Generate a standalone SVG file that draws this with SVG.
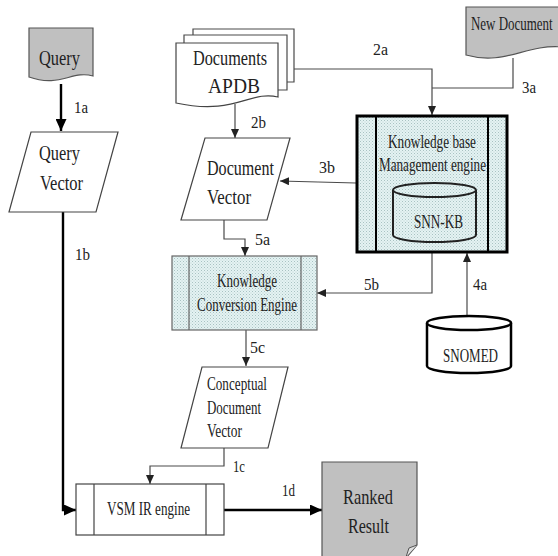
<svg xmlns="http://www.w3.org/2000/svg" width="558" height="556" viewBox="0 0 558 556" font-family="'Liberation Serif', 'Times New Roman', serif">
<defs>
<pattern id="dots" width="3" height="3" patternUnits="userSpaceOnUse">
<rect width="3" height="3" fill="#e4f3f3"/>
<rect x="0" y="0" width="1" height="1" fill="#a9c2c2"/>
<rect x="1.5" y="1.5" width="1" height="1" fill="#bcd0d0"/>
</pattern>
<marker id="ah" markerWidth="9" markerHeight="8" refX="9" refY="4" orient="auto" markerUnits="userSpaceOnUse">
<path d="M0,0 L9,4 L0,8 Z" fill="#222"/>
</marker>
<marker id="ahb" markerWidth="12" markerHeight="11" refX="12" refY="5.5" orient="auto" markerUnits="userSpaceOnUse">
<path d="M0,0 L12,5.5 L0,11 Z" fill="#000"/>
</marker>
</defs>
<style>
text{font-family:'Liberation Serif','Times New Roman',serif;fill:#222;}
.big{font-size:21px;}
.mid{font-size:18px;}
.lbl{font-size:17px;}
.thin{fill:none;stroke:#4a4a4a;stroke-width:1.2;}
.thick{fill:none;stroke:#000;stroke-width:2.4;}
.shape{fill:#fff;stroke:#444;stroke-width:1.2;}
.gray{fill:#c0c0c0;stroke:#555;stroke-width:1.2;}
.pat{fill:url(#dots);stroke:#666;stroke-width:1.2;}
</style>
<rect width="558" height="556" fill="#fff"/>

<g id="connectors">
<path class="thick" d="M61,84 V131" marker-end="url(#ahb)"/>
<path class="thick" d="M63,212 V510 H76" marker-end="url(#ahb)"/>
<path class="thin" d="M224,448 V466 H150 V484" marker-end="url(#ah)"/>
<path class="thick" d="M224,510 H322" marker-end="url(#ahb)"/>
<path class="thin" d="M294,69 H432 V115" marker-end="url(#ah)"/>
<path class="thin" d="M235,104 V138" marker-end="url(#ah)"/>
<path class="thin" d="M513,58 V88 H432"/>
<path class="thin" d="M356,183 L280,181" marker-end="url(#ah)"/>
<path class="thin" d="M467,317 V253" marker-end="url(#ah)"/>
<path class="thin" d="M224,220 V239 H245 V256" marker-end="url(#ah)"/>
<path class="thin" d="M432,252 V293 H317" marker-end="url(#ah)"/>
<path class="thin" d="M246,330 V366" marker-end="url(#ah)"/>
<text class="lbl" x="74" y="113" textLength="14" lengthAdjust="spacingAndGlyphs">1a</text>
<text class="lbl" x="75" y="260" textLength="15" lengthAdjust="spacingAndGlyphs">1b</text>
<text class="lbl" x="233" y="472" textLength="12" lengthAdjust="spacingAndGlyphs">1c</text>
<text class="lbl" x="282" y="496" textLength="13" lengthAdjust="spacingAndGlyphs">1d</text>
<text class="lbl" x="373" y="55" textLength="15" lengthAdjust="spacingAndGlyphs">2a</text>
<text class="lbl" x="251" y="128" textLength="15" lengthAdjust="spacingAndGlyphs">2b</text>
<text class="lbl" x="522" y="93" textLength="14" lengthAdjust="spacingAndGlyphs">3a</text>
<text class="lbl" x="319" y="173" textLength="16" lengthAdjust="spacingAndGlyphs">3b</text>
<text class="lbl" x="473" y="290" textLength="14" lengthAdjust="spacingAndGlyphs">4a</text>
<text class="lbl" x="255" y="245" textLength="15" lengthAdjust="spacingAndGlyphs">5a</text>
<text class="lbl" x="364" y="290" textLength="15" lengthAdjust="spacingAndGlyphs">5b</text>
<text class="lbl" x="250" y="353" textLength="15" lengthAdjust="spacingAndGlyphs">5c</text>
</g>

<g id="query">
<path class="gray" d="M29,28 H93 V76 C72,70 60,88 29,77 Z"/>
<text class="big" x="39" y="65" textLength="41" lengthAdjust="spacingAndGlyphs">Query</text>
</g>

<g id="query-vector">
<polygon class="shape" points="31,132 118,132 96,212 9,212"/>
<text class="big" x="39" y="160" textLength="41" lengthAdjust="spacingAndGlyphs">Query</text>
<text class="big" x="40" y="190" textLength="43" lengthAdjust="spacingAndGlyphs">Vector</text>
</g>

<g id="documents-apdb">
<path class="thin" d="M193,35 V29 H294 V82 H287"/>
<path class="thin" d="M184,43 V35 H287 V90 H278"/>
<path class="shape" d="M176,43 H278 V97 C250,90 235,116 176,103 Z"/>
<text class="big" x="193" y="65" textLength="74" lengthAdjust="spacingAndGlyphs">Documents</text>
<text class="big" x="208" y="93" textLength="52" lengthAdjust="spacingAndGlyphs">APDB</text>
</g>

<g id="new-document">
<path class="gray" d="M466,7 H562 V47 C525,44 505,66 466,55 Z"/>
<text class="mid" transform="translate(471,30) scale(0.72,1)" x="0" y="0">New Document</text>
</g>

<g id="document-vector">
<polygon class="shape" points="205,138 290,138 267,220 181,220"/>
<text class="big" x="207" y="175" textLength="67" lengthAdjust="spacingAndGlyphs">Document</text>
<text class="big" x="207" y="204" textLength="44" lengthAdjust="spacingAndGlyphs">Vector</text>
</g>

<g id="kb-engine">
<rect x="357" y="116" width="150" height="136" fill="url(#dots)" stroke="#000" stroke-width="3"/>
<line x1="376" y1="116" x2="376" y2="252" stroke="#000" stroke-width="2"/>
<line x1="488" y1="116" x2="488" y2="252" stroke="#000" stroke-width="2"/>
<text class="mid" x="388" y="148" textLength="88" lengthAdjust="spacingAndGlyphs">Knowledge base</text>
<text class="mid" x="379" y="171" textLength="107" lengthAdjust="spacingAndGlyphs">Management engine</text>
</g>

<g id="snn-kb">
<path d="M393,190 V235 A41.5,7 0 0 0 476,235 V190" fill="url(#dots)" stroke="#222" stroke-width="2"/>
<ellipse cx="434.5" cy="190" rx="41.5" ry="7" fill="url(#dots)" stroke="#222" stroke-width="2"/>
<text class="mid" x="414" y="228" textLength="49" lengthAdjust="spacingAndGlyphs">SNN-KB</text>
</g>

<g id="kc-engine">
<rect class="pat" x="172" y="256" width="145" height="74"/>
<line x1="189" y1="256" x2="189" y2="330" stroke="#666" stroke-width="1.2"/>
<line x1="301" y1="256" x2="301" y2="330" stroke="#666" stroke-width="1.2"/>
<text class="mid" x="217" y="287" textLength="60" lengthAdjust="spacingAndGlyphs">Knowledge</text>
<text class="mid" x="197" y="311" textLength="100" lengthAdjust="spacingAndGlyphs">Conversion Engine</text>
</g>

<g id="snomed">
<path d="M427,323 V366 A42,7 0 0 0 511,366 V323" fill="#fff" stroke="#000" stroke-width="2.5"/>
<ellipse cx="469" cy="323" rx="42" ry="7" fill="#fff" stroke="#000" stroke-width="2.5"/>
<text class="mid" x="443" y="362" textLength="55" lengthAdjust="spacingAndGlyphs">SNOMED</text>
</g>

<g id="conceptual-vector">
<polygon class="shape" points="202,367 288,367 268,448 181,448"/>
<text class="mid" x="207" y="390" textLength="60" lengthAdjust="spacingAndGlyphs">Conceptual</text>
<text class="mid" x="207" y="414" textLength="54" lengthAdjust="spacingAndGlyphs">Document</text>
<text class="mid" x="207" y="437" textLength="35" lengthAdjust="spacingAndGlyphs">Vector</text>
</g>

<g id="vsm-engine">
<rect class="shape" x="76" y="484" width="148" height="51"/>
<line x1="94" y1="484" x2="94" y2="535" stroke="#444" stroke-width="1.2"/>
<line x1="206" y1="484" x2="206" y2="535" stroke="#444" stroke-width="1.2"/>
<text class="mid" x="107" y="515" textLength="83" lengthAdjust="spacingAndGlyphs">VSM IR engine</text>
</g>

<g id="ranked-result">
<path class="gray" d="M322,462 H417 V545 L406,558 H322 Z"/>
<path d="M417,545 L409,548 L406,557" fill="#e0e0e0" stroke="#555" stroke-width="1"/>
<text class="big" x="343" y="504" textLength="50" lengthAdjust="spacingAndGlyphs">Ranked</text>
<text class="big" x="348" y="533" textLength="41" lengthAdjust="spacingAndGlyphs">Result</text>
</g>
</svg>
